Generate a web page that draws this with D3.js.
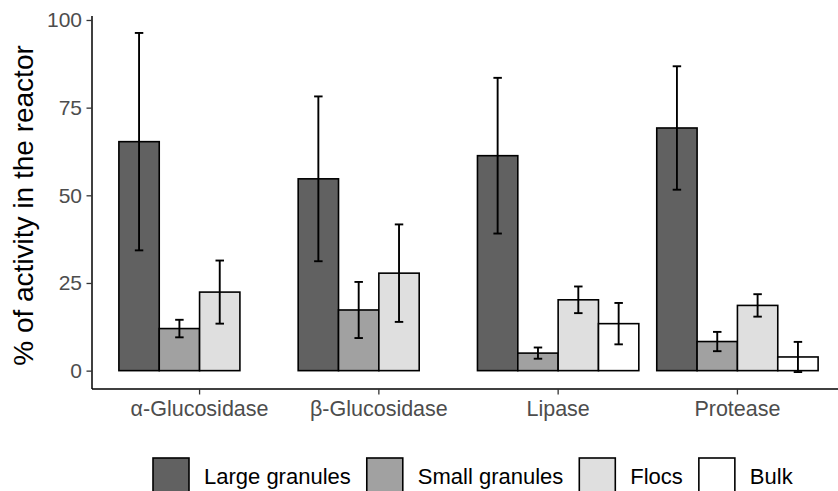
<!DOCTYPE html>
<html>
<head>
<meta charset="utf-8">
<script src="https://cdn.jsdelivr.net/npm/d3@7"></script>
<style>
  html, body { margin: 0; padding: 0; background: #ffffff; }
  svg { display: block; }
  text { font-family: "Liberation Sans", Arial, Helvetica, sans-serif; }
</style>
</head>
<body>
<svg id="chart" width="838" height="491"></svg>
<script>
// ---- data ----
const categories = ["α-Glucosidase", "β-Glucosidase", "Lipase", "Protease"];
const seriesNames = ["Large granules", "Small granules", "Flocs", "Bulk"];
const seriesColors = ["#616161", "#a1a1a1", "#dfdfdf", "#ffffff"];
const largeGranules = [65.3, 54.7, 61.3, 69.2];
const largeGranulesErr = [31.0, 23.5, 22.2, 17.6];
const smallGranules = [12.0, 17.3, 5.0, 8.3];
const smallGranulesErr = [2.5, 8.0, 1.6, 2.75];
const flocs = [22.4, 27.8, 20.2, 18.6];
const flocsErr = [9.0, 13.9, 3.8, 3.2];
const bulk = [0, 0, 13.4, 3.9];
const bulkErr = [0, 0, 5.9, 4.3];
const yTicks = [0, 25, 50, 75, 100];
const yTitle = "% of activity in the reactor";

const seriesValues = [largeGranules, smallGranules, flocs, bulk];
const seriesErrors = [largeGranulesErr, smallGranulesErr, flocsErr, bulkErr];

const rows = [];
categories.forEach((c, i) => {
  seriesNames.forEach((s, j) => {
    rows.push({ cat: c, series: s, value: seriesValues[j][i], err: seriesErrors[j][i], color: seriesColors[j] });
  });
});

// ---- layout ----
const svg = d3.select("#chart");
const panel = { left: 92, top: 16, bottom: 389, right: 845 };

const x = d3.scaleBand()
  .domain(categories)
  .range([panel.left, panel.right])
  .paddingInner(0.1)
  .paddingOuter(0.15);

const xs = d3.scaleBand()
  .domain(seriesNames)
  .range([0, x.bandwidth()])
  .padding(0);

const lo = d3.min(rows, d => Math.min(0, d.value - d.err));
const hi = d3.max(rows, d => d.value + d.err);
const pad = (hi - lo) * 0.05;
const y = d3.scaleLinear().domain([lo - pad, hi + pad]).range([panel.bottom, panel.top]);

const color = d3.scaleOrdinal().domain(seriesNames).range(seriesColors);

// ---- bars ----
const g = svg.append("g");
g.selectAll("rect.bar")
  .data(rows)
  .join("rect")
  .attr("class", "bar")
  .attr("x", d => x(d.cat) + xs(d.series))
  .attr("width", xs.bandwidth())
  .attr("y", d => y(Math.max(0, d.value)))
  .attr("height", d => Math.abs(y(d.value) - y(0)))
  .attr("fill", d => color(d.series))
  .attr("stroke", "#000")
  .attr("stroke-width", 1.6);

// ---- error bars ----
const capHalf = xs.bandwidth() * 0.105;
const eb = g.selectAll("g.err")
  .data(rows.filter(d => d.err > 0))
  .join("g")
  .attr("class", "err")
  .attr("stroke", "#000")
  .attr("stroke-width", 1.9);
eb.append("line")
  .attr("x1", d => x(d.cat) + xs(d.series) + xs.bandwidth() / 2)
  .attr("x2", d => x(d.cat) + xs(d.series) + xs.bandwidth() / 2)
  .attr("y1", d => y(d.value - d.err))
  .attr("y2", d => y(d.value + d.err));
eb.append("line")
  .attr("x1", d => x(d.cat) + xs(d.series) + xs.bandwidth() / 2 - capHalf)
  .attr("x2", d => x(d.cat) + xs(d.series) + xs.bandwidth() / 2 + capHalf)
  .attr("y1", d => y(d.value + d.err))
  .attr("y2", d => y(d.value + d.err));
eb.append("line")
  .attr("x1", d => x(d.cat) + xs(d.series) + xs.bandwidth() / 2 - capHalf)
  .attr("x2", d => x(d.cat) + xs(d.series) + xs.bandwidth() / 2 + capHalf)
  .attr("y1", d => y(d.value - d.err))
  .attr("y2", d => y(d.value - d.err));

// ---- axes ----
const yAxis = svg.append("g")
  .attr("transform", `translate(${panel.left},0)`)
  .call(d3.axisLeft(y).tickValues(yTicks).tickSize(5.5).tickPadding(4.5).tickFormat(d3.format("d")));
yAxis.select(".domain").attr("d", `M0,${panel.top}V${panel.bottom}`).attr("stroke", "#000").attr("stroke-width", 1.5);
yAxis.selectAll(".tick line").attr("stroke", "#333").attr("stroke-width", 1.3);
yAxis.selectAll(".tick text").attr("fill", "#4d4d4d").style("font-size", "21px");

const xAxis = svg.append("g")
  .attr("transform", `translate(0,${panel.bottom})`)
  .call(d3.axisBottom(x).tickSize(5.5).tickPadding(6));
xAxis.select(".domain").attr("d", `M${panel.left},0H${panel.right}`).attr("stroke", "#000").attr("stroke-width", 1.5);
xAxis.selectAll(".tick line").attr("stroke", "#333").attr("stroke-width", 1.3);
xAxis.selectAll(".tick text").attr("fill", "#4d4d4d").style("font-size", "21.5px").attr("dy", "0.71em");

// ---- y title ----
svg.append("text")
  .attr("transform", `translate(33,${(panel.top + panel.bottom) / 2 + 3}) rotate(-90)`)
  .attr("text-anchor", "middle")
  .attr("fill", "#000")
  .style("font-size", "28px")
  .text(yTitle);

// ---- legend ----
const legend = svg.append("g");
const keySize = 36;
const keyGap = 15;
const itemGap = 16;
let lx = 153;
const ly = 458;
seriesNames.forEach((s, j) => {
  legend.append("rect")
    .attr("x", lx).attr("y", ly)
    .attr("width", keySize).attr("height", keySize)
    .attr("fill", color(s)).attr("stroke", "#000").attr("stroke-width", 1.6);
  const t = legend.append("text")
    .attr("x", lx + keySize + keyGap)
    .attr("y", ly + keySize / 2)
    .attr("dy", "0.35em")
    .attr("fill", "#000")
    .style("font-size", "22px")
    .text(s);
  lx += keySize + keyGap + t.node().getComputedTextLength() + itemGap;
});
</script>
</body>
</html>
